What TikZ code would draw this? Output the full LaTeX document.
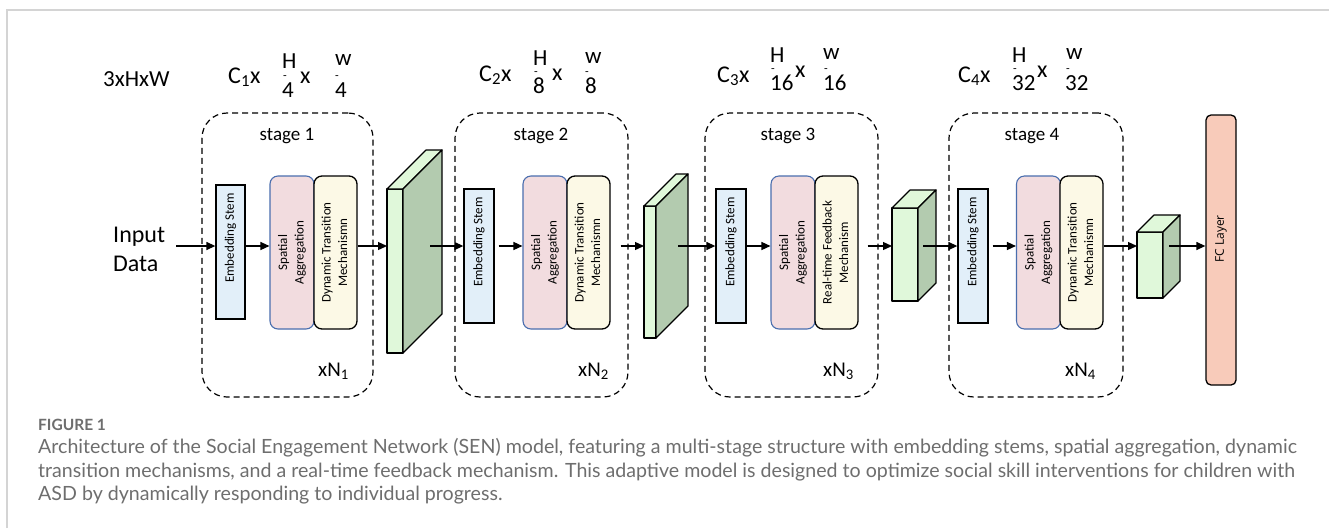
\documentclass[tikz,border=0pt]{standalone}
\usepackage{fontspec}
\setmainfont{Carlito}
\newfontfamily\capfont{Lato}
\newfontfamily\fcfont{Open Sans}
\usetikzlibrary{arrows.meta}
\definecolor{embc}{HTML}{E2EFF9}
\definecolor{spac}{HTML}{F2DCDF}
\definecolor{spab}{HTML}{4A6EAE}
\definecolor{dync}{HTML}{FCF9E6}
\definecolor{frontc}{HTML}{E0F8DA}
\definecolor{sidec}{HTML}{B3CBAF}
\definecolor{fcc}{HTML}{F8CBBA}
\definecolor{capc}{HTML}{6E6E6E}
\definecolor{framec}{HTML}{D4D4D4}
\newcommand\fsz[1]{\fontsize{#1}{#1}\selectfont}
\newcommand\mkslab[5]{%
  \filldraw[fill=frontc, line width=1.2pt, line join=round] (#1,#3) rectangle (#2,#4);
  \filldraw[fill=frontc, line width=1.2pt, line join=round] (#1,#3) -- ({#1+#5},{#3-#5}) -- ({#2+#5},{#3-#5}) -- (#2,#3) -- cycle;
  \filldraw[fill=sidec, line width=1.2pt, line join=round] (#2,#3) -- ({#2+#5},{#3-#5}) -- ({#2+#5},{#4-#5}) -- (#2,#4) -- cycle;}
\begin{document}
\begin{tikzpicture}[x=1pt,y=-1pt,
  emb/.style={draw, line width=1.3pt, fill=embc, minimum width=29pt, minimum height=134pt, inner sep=0pt, font=\fontsize{13}{16}\selectfont},
  spa/.style={draw=spab, line width=1.1pt, fill=spac, rounded corners=8pt, minimum width=44pt, minimum height=153pt, inner sep=0pt, font=\fontsize{13}{16.5}\selectfont},
  dyn/.style={draw, line width=1.3pt, fill=dync, rounded corners=8pt, minimum width=43pt, minimum height=153pt, inner sep=0pt, font=\fontsize{13}{16.5}\selectfont},
  stagebox/.style={draw, dash pattern=on 6pt off 4pt, line width=1.2pt, rounded corners=25pt, inner sep=0pt},
  stagelab/.style={font=\fsz{19}, anchor=base, inner sep=0pt},
  arr/.style={-{Triangle[length=9pt,width=8pt]}, line width=1.3pt},
  big/.style={font=\fsz{24}, anchor=base west, inner sep=0pt},
  frac/.style={font=\fsz{23}, anchor=base west, inner sep=0pt},
  bar/.style={font=\fsz{12}, anchor=center, inner sep=0pt, text height=2pt, text depth=0pt},
  nlab/.style={font=\fsz{21}, anchor=base west, inner sep=0pt},
  captext/.style={font=\capfont\fsz{19.6}, text=capc, anchor=base west, inner sep=0pt}]
\useasboundingbox (0,0) rectangle (1329,528);
\fill[white] (0,0) rectangle (1329,528);
\draw[framec, line width=1.2pt] (7,528) -- (7,10) -- (1329,10);
\coordinate (ay) at (0,246);

% top labels
\node[font=\fsz{23}, anchor=base west, inner sep=0pt] (dim0) at (103,86) {3xHxW};
\node[big] (c1) at (228,83) {C\textsubscript{1}x};
\node[frac] (h1) at (282,68) {H}; \node[bar] (h1b) at (285,78) {-}; \node[frac] (h1n) at (282,97) {4};
\node[big] (x1) at (300,83) {x};
\node[frac] (w1) at (335,65) {w}; \node[bar] (w1b) at (337,78) {-}; \node[frac] (w1n) at (335,97) {4};

\node[big] (c2) at (479,81) {C\textsubscript{2}x};
\node[frac] (h2) at (533,65) {H}; \node[bar] (h2b) at (536,74) {-}; \node[frac] (h2n) at (533,93) {8};
\node[big] (x2) at (552,80) {x};
\node[frac] (w2) at (585,63) {w}; \node[bar] (w2b) at (587,74) {-}; \node[frac] (w2n) at (585,93) {8};

\node[big] (c3) at (717,82) {C\textsubscript{3}x};
\node[frac] (h3) at (770,62) {H}; \node[bar] (h3b) at (773,71) {-}; \node[frac] (h3n) at (770,90) {16};
\node[big] (x3) at (795,77) {x};
\node[frac] (w3) at (823,59) {w}; \node[bar] (w3b) at (826,71) {-}; \node[frac] (w3n) at (823,90) {16};

\node[big] (c4) at (958,82) {C\textsubscript{4}x};
\node[frac] (h4) at (1012,62) {H}; \node[bar] (h4b) at (1015,71) {-}; \node[frac] (h4n) at (1012,90) {32};
\node[big] (x4) at (1037,77) {x};
\node[frac] (w4) at (1066,59) {w}; \node[bar] (w4b) at (1068,71) {-}; \node[frac] (w4n) at (1065,90) {32};

% input
\node[font=\fontsize{24}{29}\selectfont, align=left, anchor=west, inner sep=0pt] (inp) at (113,249) {Input\\Data};
\coordinate (inpo) at (176,246);

% stage boxes
\node[stagebox, minimum width=171pt, minimum height=284pt] (st1) at (287.5,255) {};
\node[stagebox, minimum width=173pt, minimum height=284pt] (st2) at (541.5,255) {};
\node[stagebox, minimum width=173pt, minimum height=284pt] (st3) at (791.5,255) {};
\node[stagebox, minimum width=174pt, minimum height=284pt] (st4) at (1036,255) {};
\node[stagelab] (st1l) at (287,140) {stage 1};
\node[stagelab] (st2l) at (541,140) {stage 2};
\node[stagelab] (st3l) at (788,140) {stage 3};
\node[stagelab] (st4l) at (1032,140) {stage 4};
\node[nlab] (n1) at (318,376) {xN\textsubscript{1}};
\node[nlab] (n2) at (578,376) {xN\textsubscript{2}};
\node[nlab] (n3) at (823,376) {xN\textsubscript{3}};
\node[nlab] (n4) at (1065,376) {xN\textsubscript{4}};

% stage 1
\node[emb] (e1) at (230.5,252) {\rotatebox{90}{\hspace*{28pt}Embedding Stem}};
\node[spa] (s1) at (292,252.5) {\rotatebox{90}{\begin{tabular}{@{}c@{}}Spatial\\Aggregation\end{tabular}}};
\node[dyn] (d1) at (335.5,252.5) {\rotatebox{90}{\begin{tabular}{@{}c@{}}Dynamic Transition\\Mechanismn\end{tabular}}};
% stage 2
\node[emb, minimum width=30pt] (e2) at (479,256) {\rotatebox{90}{\hspace*{28pt}Embedding Stem}};
\node[spa] (s2) at (545,252.5) {\rotatebox{90}{\begin{tabular}{@{}c@{}}Spatial\\Aggregation\end{tabular}}};
\node[dyn] (d2) at (588.5,252.5) {\rotatebox{90}{\begin{tabular}{@{}c@{}}Dynamic Transition\\Mechanismn\end{tabular}}};
% stage 3
\node[emb, minimum width=30pt] (e3) at (731,256) {\rotatebox{90}{\hspace*{28pt}Embedding Stem}};
\node[spa] (s3) at (793,252.5) {\rotatebox{90}{\begin{tabular}{@{}c@{}}Spatial\\Aggregation\end{tabular}}};
\node[dyn] (d3) at (836.5,252.5) {\rotatebox{90}{\begin{tabular}{@{}c@{}}Real-time Feedback\\Mechanism\end{tabular}}};
% stage 4
\node[emb, minimum width=30pt] (e4) at (973,256) {\rotatebox{90}{\hspace*{28pt}Embedding Stem}};
\node[spa] (s4) at (1038.5,252.5) {\rotatebox{90}{\begin{tabular}{@{}c@{}}Spatial\\Aggregation\end{tabular}}};
\node[dyn] (d4) at (1081.5,252.5) {\rotatebox{90}{\begin{tabular}{@{}c@{}}Dynamic Transition\\Mechanismn\end{tabular}}};

% FC
\node[draw, line width=1.3pt, fill=fcc, rounded corners=5pt, minimum width=30pt, minimum height=270pt, inner sep=0pt, font=\fcfont\fsz{12}] (fc) at (1221,250) {\rotatebox{90}{\hspace*{22pt}FC Layer}};

% slabs
\mkslab{387}{403}{189}{353}{39}
\mkslab{644}{656}{206}{338}{32}
\mkslab{892}{918}{208}{301}{18}
\mkslab{1137}{1163}{232}{298}{17}
\coordinate (sl1f) at (387,246); \coordinate (sl1o) at (430,246);
\coordinate (sl2f) at (644,246); \coordinate (sl2o) at (678,246);
\coordinate (c3f) at (892,246); \coordinate (c3o) at (923,246);
\coordinate (c4f) at (1137,246); \coordinate (c4o) at (1169,246);

% arrows
\draw[arr] (inpo) -- (e1.west|-ay);
\draw[arr] (e1.east|-ay) -- (s1.west|-ay);
\draw[arr] (d1.east|-ay) -- (sl1f);
\draw[arr] (sl1o) -- (e2.west|-ay);
\draw[arr, shorten <=4pt] (e2.east|-ay) -- (s2.west|-ay);
\draw[arr, shorten <=10pt] (d2.east|-ay) -- (sl2f);
\draw[arr] (sl2o) -- (e3.west|-ay);
\draw[arr] (e3.east|-ay) -- (s3.west|-ay);
\draw[arr, shorten <=9pt] (d3.east|-ay) -- (c3f);
\draw[arr] (c3o) -- (e4.west|-ay);
\draw[arr, shorten <=4pt] (e4.east|-ay) -- (s4.west|-ay);
\draw[arr] (d4.east|-ay) -- (c4f);
\draw[arr] (c4o) -- (fc.west|-ay);

% caption
\node[font=\capfont\bfseries\fsz{15.5}, text=capc, anchor=base west, inner sep=0pt] (figl) at (38,430) {FIGURE 1};
\node[captext] (cap1) at (38,453) {Architecture of the Social Engagement Network (SEN) model, featuring a multi-stage structure with embedding stems, spatial aggregation, dynamic};
\node[captext] (cap2) at (38,477) {transition mechanisms, and a real-time feedback mechanism. This adaptive model is designed to optimize social skill interventions for children with};
\node[captext] (cap3) at (38,500) {ASD by dynamically responding to individual progress.};
\end{tikzpicture}
\end{document}
